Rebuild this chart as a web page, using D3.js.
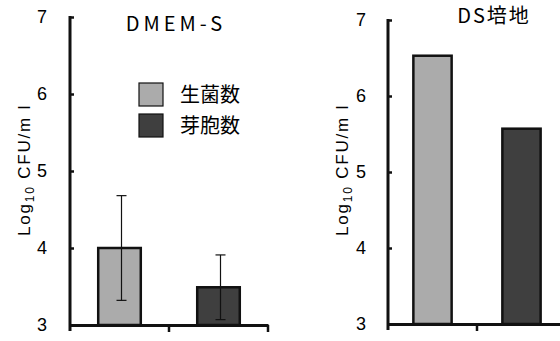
<!DOCTYPE html>
<html>
<head>
<meta charset="utf-8">
<script src="https://cdn.jsdelivr.net/npm/d3@7"></script>
<style>
  body { margin: 0; background: #fff; }
  svg { display: block; font-family: "Liberation Sans", Arial, sans-serif; }
</style>
</head>
<body>
<div id="chart"></div>
<script>
// data
const categories = ["生菌数", "芽胞数"];
const dmemValues = [4.0, 3.49];
const dmemErrors = [0.68, 0.42];
const dsValues = [6.53, 5.57];
const yTicks = [3, 4, 5, 6, 7];
const fills = ["#ababab", "#3f3f3f"];

const width = 560, height = 341;
const svg = d3.select("#chart").append("svg")
    .attr("width", width)
    .attr("height", height);

function drawPanel(opts) {
    const g = svg.append("g");
    const x = d3.scaleBand().domain(categories).range([opts.x0, opts.x1]).padding(0);
    const y = d3.scaleLinear().domain([3, 7]).range([opts.yBottom, opts.yTop]);
    const bw = x.bandwidth() * opts.barFrac;

    // bars
    g.selectAll("rect.bar")
        .data(opts.values)
        .join("rect")
        .attr("class", "bar")
        .attr("x", (d, i) => x(categories[i]) + (x.bandwidth() - bw) / 2)
        .attr("y", d => y(d))
        .attr("width", bw)
        .attr("height", d => y(3) - y(d))
        .attr("fill", (d, i) => fills[i])
        .attr("stroke", "#111")
        .attr("stroke-width", 2.5);

    // error bars
    if (opts.errors) {
        const eb = g.selectAll("g.err")
            .data(opts.values)
            .join("g")
            .attr("class", "err")
            .attr("transform", (d, i) => `translate(${x(categories[i]) + x.bandwidth() / 2 + 2},0)`);
        eb.append("line")
            .attr("y1", (d, i) => y(d + opts.errors[i]))
            .attr("y2", (d, i) => y(d - opts.errors[i]))
            .attr("stroke", "#111").attr("stroke-width", 1.2);
        eb.append("line")
            .attr("x1", -5).attr("x2", 5)
            .attr("y1", (d, i) => y(d + opts.errors[i]))
            .attr("y2", (d, i) => y(d + opts.errors[i]))
            .attr("stroke", "#111").attr("stroke-width", 1.2);
        eb.append("line")
            .attr("x1", -5).attr("x2", 5)
            .attr("y1", (d, i) => y(d - opts.errors[i]))
            .attr("y2", (d, i) => y(d - opts.errors[i]))
            .attr("stroke", "#111").attr("stroke-width", 1.2);
    }

    // y axis (ticks inside)
    const yAxis = g.append("g")
        .attr("transform", `translate(${opts.x0},0)`)
        .call(d3.axisRight(y).tickValues(yTicks).tickSize(4).tickFormat(""));
    yAxis.select(".domain").remove();
    yAxis.selectAll(".tick line").attr("stroke", "#111").attr("stroke-width", 2.5);
    g.append("line")
        .attr("x1", opts.x0).attr("x2", opts.x0)
        .attr("y1", opts.yTop - 1).attr("y2", opts.yBottom + 6)
        .attr("stroke", "#111").attr("stroke-width", 3);

    // y tick labels
    g.selectAll("text.ytick")
        .data(yTicks)
        .join("text")
        .attr("class", "ytick")
        .attr("x", opts.tickLabelX)
        .attr("y", d => y(d) + 6)
        .attr("text-anchor", "end")
        .attr("font-size", 18)
        .attr("fill", "#000")
        .text(d => d);

    // x axis (ticks down at band edges)
    const xAxis = g.append("g")
        .attr("transform", `translate(0,${opts.yBottom})`)
        .call(d3.axisBottom(x).tickSize(0).tickFormat(""));
    xAxis.select(".domain").attr("stroke", "#111").attr("stroke-width", 3);
    xAxis.selectAll(".tick").remove();
    categories.forEach(c => {
        g.append("line")
            .attr("x1", x(c) + x.step()).attr("x2", x(c) + x.step())
            .attr("y1", opts.yBottom).attr("y2", opts.yBottom + 7)
            .attr("stroke", "#111").attr("stroke-width", 2.5);
    });

    // y axis title
    const lab = g.append("text")
        .attr("transform", `translate(${opts.labelX},${opts.labelY}) rotate(-90)`)
        .attr("text-anchor", "middle")
        .attr("font-size", 17)
        .attr("letter-spacing", 1.8)
        .attr("fill", "#000");
    lab.append("tspan").text("Log");
    lab.append("tspan").attr("font-size", 12).attr("dy", 4).text("10");
    lab.append("tspan").attr("dy", -4).text(" CFU/m l");

    // panel title
    g.append("text")
        .attr("x", opts.titleX)
        .attr("y", opts.titleY)
        .attr("text-anchor", "middle")
        .attr("font-size", opts.titleSize)
        .attr("letter-spacing", opts.titleSpacing)
        .attr("font-family", "'Noto Sans CJK JP', 'Liberation Sans', sans-serif")
        .attr("fill", "#000")
        .text(opts.title);
}

drawPanel({
    x0: 70, x1: 268, yTop: 17, yBottom: 325,
    values: dmemValues, errors: dmemErrors, barFrac: 0.43,
    tickLabelX: 47, labelX: 30, labelY: 170,
    title: "DMEM-S", titleX: 176, titleY: 31, titleSize: 20, titleSpacing: 4
});

drawPanel({
    x0: 388, x1: 566, yTop: 20, yBottom: 324,
    values: dsValues, errors: null, barFrac: 0.43,
    tickLabelX: 366, labelX: 348, labelY: 170,
    title: "DS培地", titleX: 494, titleY: 23, titleSize: 20, titleSpacing: 2
});

// legend
const legend = svg.append("g").attr("transform", "translate(139,83)");
categories.forEach((c, i) => {
    legend.append("rect")
        .attr("x", 0).attr("y", i * 31)
        .attr("width", 24).attr("height", 23)
        .attr("fill", fills[i])
        .attr("stroke", "#111").attr("stroke-width", 1.2);
    legend.append("text")
        .attr("x", 41).attr("y", i * 31 + 19)
        .attr("font-size", 20)
        .attr("font-family", "'Noto Sans CJK JP', sans-serif")
        .attr("fill", "#000")
        .text(c);
});
</script>
</body>
</html>
